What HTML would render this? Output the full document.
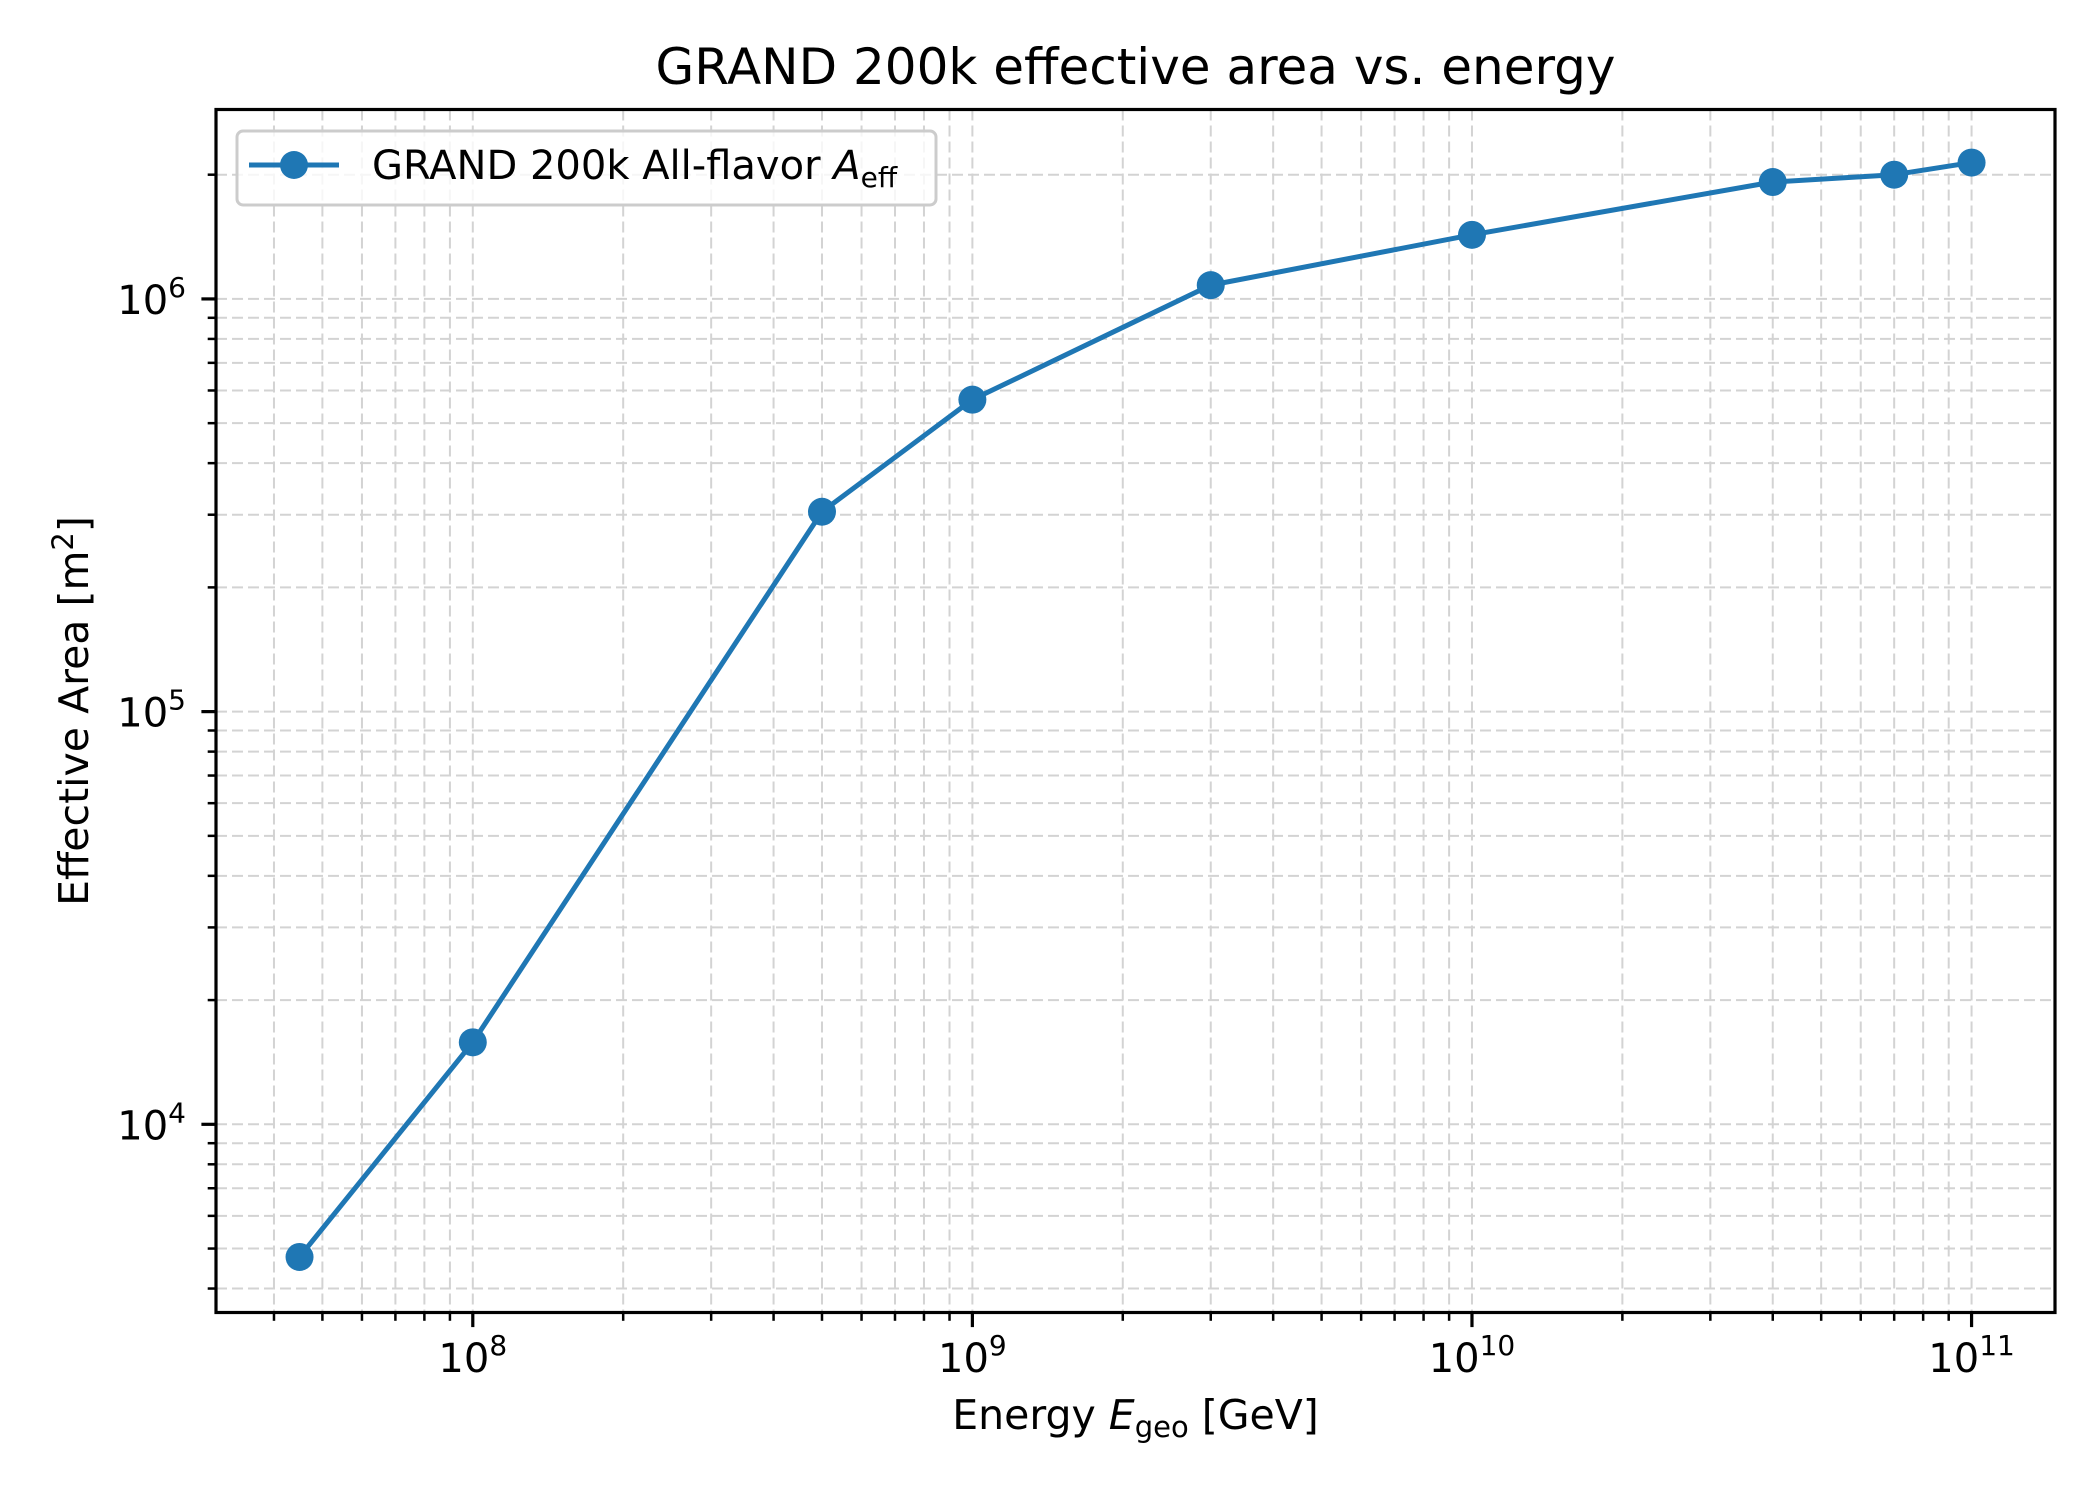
<!DOCTYPE html>
<html><head><meta charset="utf-8"><style>
html,body{margin:0;padding:0;background:#fff;}
svg{display:block;font-family:"DejaVu Sans","Liberation Sans",sans-serif;}
</style></head><body>
<svg id="chart" width="2100" height="1500" viewBox="0 0 2100 1500" xmlns="http://www.w3.org/2000/svg">
<rect width="2100" height="1500" fill="#fff"/>
<text x="1135.5" y="84" font-size="50" text-anchor="middle" fill="#000">GRAND 200k effective area vs. energy</text>
<g id="grid"></g>
<g id="series"></g>
<rect x="216" y="109.5" width="1839" height="1203" fill="none" stroke="#000" stroke-width="3.2"/>
<g id="ticks"></g>
<text x="1135.5" y="1429" font-size="41" text-anchor="middle" fill="#000">Energy <tspan font-style="italic">E</tspan><tspan font-size="29" dy="8">geo</tspan><tspan dy="-8"> [GeV]</tspan></text>
<text transform="translate(88,711) rotate(-90)" font-size="41" text-anchor="middle" fill="#000">Effective Area [m<tspan font-size="29" dy="-15">2</tspan><tspan dy="15">]</tspan></text>
<g>
<rect x="237" y="131" width="699" height="74" rx="6" fill="#fff" fill-opacity="0.8" stroke="#ccc" stroke-width="3"/>
<line x1="249" y1="165" x2="339" y2="165" stroke="#1f77b4" stroke-width="5"/>
<circle cx="294" cy="165" r="14" fill="#1f77b4"/>
<text x="372" y="179" font-size="40" fill="#000">GRAND 200k All-flavor <tspan font-style="italic">A</tspan><tspan font-size="28" dy="8">eff</tspan></text>
</g>
</svg>
<script>
const energies = [4.5e7, 1e8, 5e8, 1e9, 3e9, 1e10, 4e10, 7e10, 1e11];
const areas = [4.77e3, 1.58e4, 3.05e5, 5.7e5, 1.08e6, 1.43e6, 1.92e6, 2.0e6, 2.14e6];
const xTickExps = [8, 9, 10, 11];
const yTickExps = [4, 5, 6];

const L=216,R=2055,T=109.5,B=1312.5;
const xMin=7.486,xMax=11.167,yMin=3.544,yMax=6.459;
const NS="http://www.w3.org/2000/svg";
function xs(v){return L+(Math.log10(v)-xMin)/(xMax-xMin)*(R-L);}
function ys(v){return B-(Math.log10(v)-yMin)/(yMax-yMin)*(B-T);}
function mk(tag,attrs,parent){const e=document.createElementNS(NS,tag);for(const k in attrs)e.setAttribute(k,attrs[k]);parent.appendChild(e);return e;}
const grid=document.getElementById('grid'),ticks=document.getElementById('ticks'),series=document.getElementById('series');

for(let d=7;d<=11;d++){for(let m=1;m<10;m++){const v=m*Math.pow(10,d);const lv=Math.log10(v);if(lv<xMin||lv>xMax)continue;const x=xs(v);
const g=mk('line',{x1:x,y1:T,x2:x,y2:B,stroke:'#d3d3d3','stroke-width':2,'stroke-dasharray':'11,5'},grid);


const t=mk('line',{x1:x,y1:B,x2:x,y2:B+(m===1?14.6:8.3),stroke:'#000','stroke-width':m===1?3.2:2.5},ticks);

}}
for(let d=3;d<=6;d++){for(let m=1;m<10;m++){const v=m*Math.pow(10,d);const lv=Math.log10(v);if(lv<yMin||lv>yMax)continue;const y=ys(v);
const g=mk('line',{x1:L,y1:y,x2:R,y2:y,stroke:'#d3d3d3','stroke-width':2,'stroke-dasharray':'11,5'},grid);


const t=mk('line',{x1:L,y1:y,x2:L-(m===1?14.6:8.3),y2:y,stroke:'#000','stroke-width':m===1?3.2:2.5},ticks);

}}
xTickExps.forEach(e=>{const x=xs(Math.pow(10,e));
const t=mk('text',{x:x,y:1372,'font-size':40,'text-anchor':'middle',fill:'#000'},ticks);


t.innerHTML='10<tspan font-size="28" dy="-17">'+e+'</tspan>';});
yTickExps.forEach(e=>{const y=ys(Math.pow(10,e));
const t=mk('text',{x:186,y:y+15,'font-size':40,'text-anchor':'end',fill:'#000'},ticks);


t.innerHTML='10<tspan font-size="28" dy="-17">'+e+'</tspan>';});

const pts=energies.map((e,i)=>xs(e)+','+ys(areas[i])).join(' ');
const pl=mk('polyline',{points:pts,fill:'none',stroke:'#1f77b4','stroke-width':5,'stroke-linejoin':'round'},series);


energies.forEach((e,i)=>{const c=mk('circle',{cx:xs(e),cy:ys(areas[i]),r:14,fill:'#1f77b4'},series);

});
</script>
</body></html>
